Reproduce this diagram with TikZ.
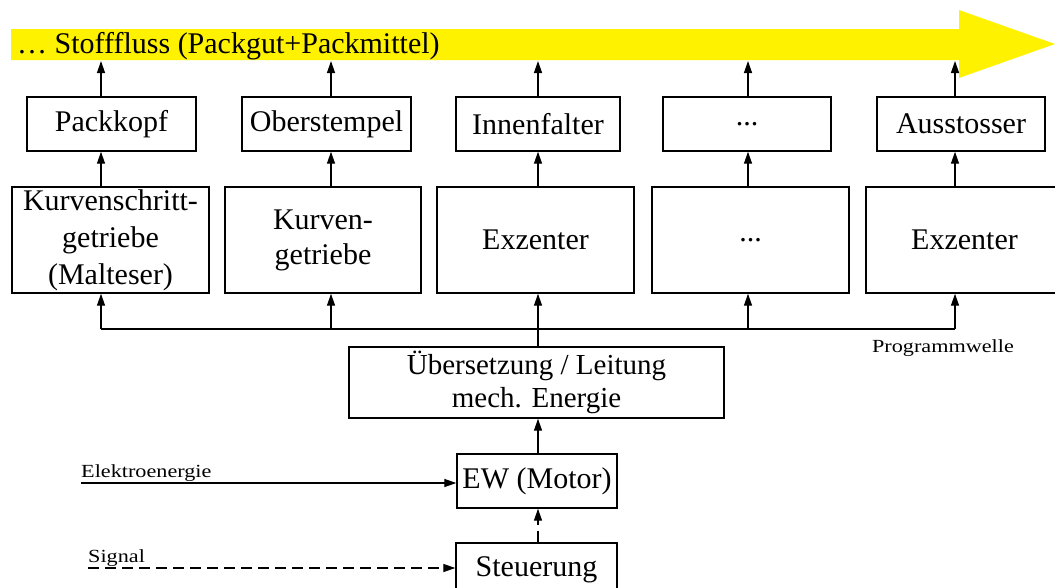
\documentclass[tikz,border=0pt]{standalone}
\usepackage{fontspec}
\setmainfont{Liberation Serif}
\newfontfamily\labelfont{Liberation Serif}[FakeStretch=1.2]
\usetikzlibrary{arrows.meta}

\begin{document}
\begin{tikzpicture}[x=1pt,y=-1pt,
  box/.style={draw, line width=1.4pt, inner sep=0pt, align=center,
    font=\fontsize{30}{34}\selectfont},
  conn/.style={line width=1.3pt, -{Triangle[length=12pt,width=8pt]}},
  dashconn/.style={conn, dash pattern=on 11pt off 6pt},
  lbl/.style={inner sep=0pt, font=\labelfont\fontsize{18.5}{20}\selectfont},
  flow/.style={fill=yellow, draw=none}]
\useasboundingbox (0,0) rectangle (1055,587);
\clip (0,0) rectangle (1055,587);

% material flow arrow
\fill[flow] (11,29) -- (959,29) -- (959,10) -- (1055,44) -- (959,78)
  -- (959,60) -- (11,60) -- cycle;
\node[inner sep=0pt, anchor=base west, font=\fontsize{30}{33}\selectfont]
  (flowtext) at (17,53) {\dots\ Stofffluss (Packgut+Packmittel)};

% working elements
\node[box, minimum width=169pt, minimum height=54pt] (packkopf) at (111.5,124) {Packkopf};
\node[box, minimum width=169pt, minimum height=54pt] (oberst) at (326.5,124) {Oberstempel};
\node[box, minimum width=164pt, minimum height=54pt] (innen) at (538,124) {Innenfalter};
\node[box, minimum width=168pt, minimum height=54pt] (dotsA) at (747,124) {...};
\node[box, minimum width=168pt, minimum height=54pt] (aus) at (961,124) {Ausstosser};

% mechanisms
\node[box, minimum width=197pt, minimum height=106pt] (kschritt) at (110.5,240)
  {Kurvenschritt-\\[3pt]getriebe\\[3pt](Malteser)};
\node[box, minimum width=196pt, minimum height=106pt] (kurv) at (323,240)
  {Kurven-\\[1pt]getriebe};
\node[box, minimum width=197pt, minimum height=106pt] (exz) at (535.5,240) {Exzenter};
\node[box, minimum width=197pt, minimum height=106pt] (dotsB) at (750.5,240) {...};
\node[box, minimum width=197pt, minimum height=106pt] (exzB) at (964.5,240) {Exzenter};

% drive chain
\node[box, font=\fontsize{29}{33}\selectfont, minimum width=375pt, minimum height=71pt]
  (ueber) at (536.5,382.5) {Übersetzung / Leitung\\mech. Energie};
\node[box, minimum width=160pt, minimum height=54pt] (ew) at (537,481) {EW (Motor)};
\node[box, minimum width=161pt, minimum height=54pt] (steu) at (536.5,570) {Steuerung};

\node[lbl] (pw) at (943,348) {Programmwelle};

% shaft positions
\coordinate (c1) at (101,0);
\coordinate (c2) at (331,0);
\coordinate (c3) at (538,0);
\coordinate (c4) at (748,0);
\coordinate (c5) at (955,0);
\coordinate (flowbot) at (0,61);
\coordinate (bus) at (0,329);

% outputs into the material flow
\foreach \c/\n in {c1/packkopf, c2/oberst, c3/innen, c4/dotsA, c5/aus}
  \draw[conn] (\n.north -| \c) -- (flowbot -| \c);

% mechanism to working element
\draw[conn] (kschritt.north -| c1) -- (packkopf.south -| c1);
\draw[conn] (kurv.north -| c2) -- (oberst.south -| c2);
\draw[conn] (exz.north -| c3) -- (innen.south -| c3);
\draw[conn] (dotsB.north -| c4) -- (dotsA.south -| c4);
\draw[conn] (exzB.north -| c5) -- (aus.south -| c5);

% program shaft
\draw[line width=1.3pt] (bus -| c1) -- (bus -| c5);
\draw[conn] (bus -| c1) -- (kschritt.south -| c1);
\draw[conn] (bus -| c2) -- (kurv.south -| c2);
\draw[conn] (ueber.north -| c3) -- (exz.south -| c3);
\draw[conn] (bus -| c4) -- (dotsB.south -| c4);
\draw[conn] (bus -| c5) -- (exzB.south -| c5);

% drive
\draw[conn] (ew.north -| c3) -- (ueber.south -| c3);
\draw[dashconn] (steu.north -| c3) -- (ew.south -| c3);

% external inputs
\coordinate (ein) at (81,483);
\coordinate (sin) at (88,568);
\node[lbl, anchor=base west] (elabel) at (81,477) {Elektroenergie};
\node[lbl, anchor=base west] (slabel) at (88,562) {Signal};
\draw[conn] (ein) -- (ein -| ew.west);
\draw[dashconn] (sin) -- (sin -| steu.west);
\end{tikzpicture}
\end{document}
